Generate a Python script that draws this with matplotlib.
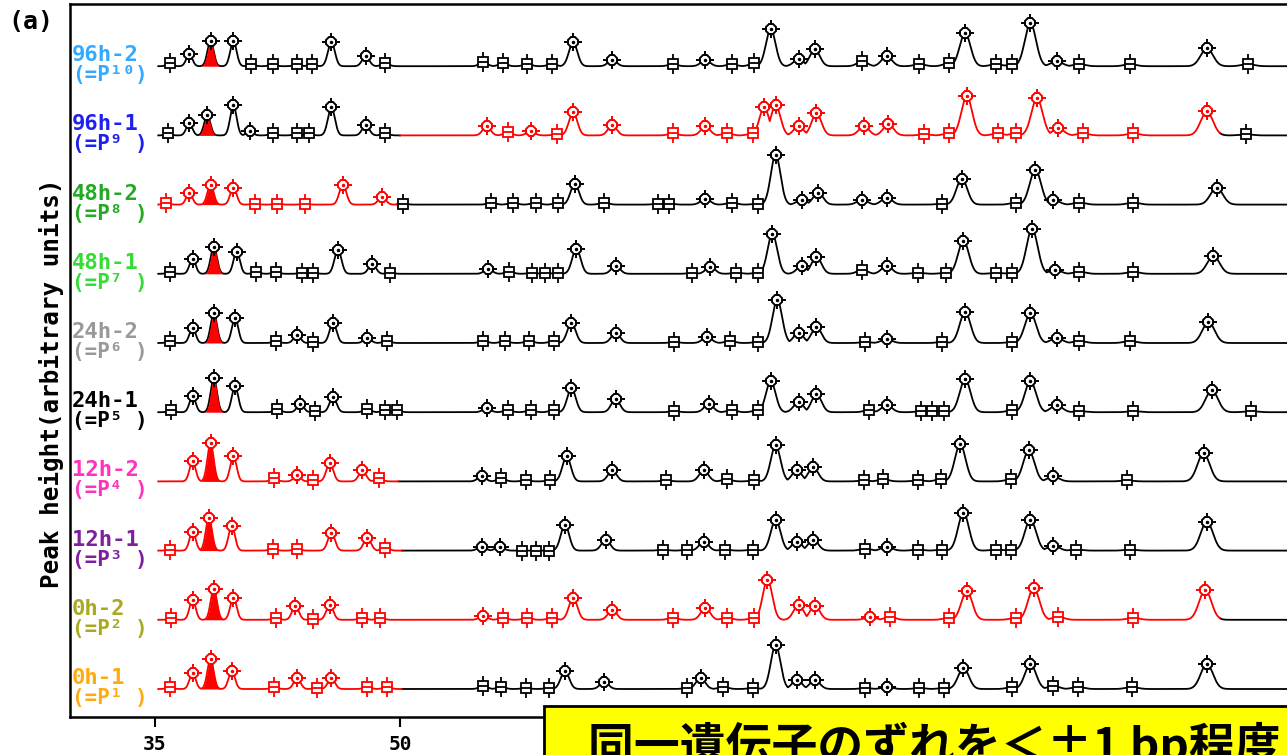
import matplotlib.pyplot as plt
from matplotlib.patches import Rectangle
import numpy as np

plt.rcParams['font.family'] = ['DejaVu Sans Mono', 'DejaVu Sans']

# sample rows, top to bottom
labels = ["96h-2", "96h-1", "48h-2", "48h-1", "24h-2", "24h-1", "12h-2", "12h-1", "0h-2", "0h-1"]
powers = ["(=P¹⁰)", "(=P⁹ )", "(=P⁸ )", "(=P⁷ )", "(=P⁶ )", "(=P⁵ )", "(=P⁴ )", "(=P³ )", "(=P² )", "(=P¹ )"]
label_colors = ["#33aaff", "#2020ee", "#22aa22", "#33dd33", "#999999",
                "#000000", "#ff33bb", "#7f1f9f", "#aaaa22", "#ffaa11"]
# part of each trace drawn in red (bp range)
red_spans = [None, (50.0, 100.2), (35.0, 49.8), None, None,
             None, (35.0, 49.9), (35.0, 50.1), (35.0, 100.2), (35.0, 50.1)]

x_ticks = [35, 50, 65, 80, 95]
x_tick_labels = ["35", "50", "", "", ""]   # the others sit under the note box

# peaks: (size in bp, height in arbitrary units, 'p' = called peak, 's' = bin marker)
p96h_2 = [(35.9, 3, 's'), (37.1, 12, 'p'), (38.4, 25, 'p'), (39.8, 25, 'p'), (40.9, 2, 's'),
          (42.2, 2, 's'), (43.7, 2, 's'), (44.6, 2, 's'), (45.8, 24, 'p'), (47.9, 10, 'p'),
          (49.1, 3, 's'), (55.1, 4, 's'), (56.3, 3, 's'), (57.8, 2, 's'), (59.3, 2, 's'),
          (60.6, 24, 'p'), (63.0, 6, 'p'), (66.7, 2, 's'), (68.7, 6, 'p'), (70.3, 2, 's'),
          (71.7, 3, 's'), (72.7, 37, 'p'), (74.4, 7, 'p'), (75.4, 17, 'p'), (78.3, 5, 's'),
          (79.8, 10, 'p'), (81.8, 2, 's'), (83.6, 3, 's'), (84.6, 33, 'p'), (86.5, 2, 's'),
          (87.5, 2, 's'), (88.6, 43, 'p'), (90.2, 5, 'p'), (91.6, 2, 's'), (94.7, 2, 's'),
          (99.4, 18, 'p'), (101.9, 2, 's')]
p96h_1 = [(35.8, 2, 's'), (37.1, 12, 'p'), (38.2, 20, 'p'), (39.8, 30, 'p'), (40.8, 4, 'p'),
          (42.2, 2, 's'), (43.7, 2, 's'), (44.4, 2, 's'), (45.8, 28, 'p'), (47.9, 10, 'p'),
          (49.1, 2, 's'), (55.3, 9, 'p'), (56.6, 3, 's'), (58.0, 4, 'p'), (59.6, 1, 's'),
          (60.6, 23, 'p'), (63.0, 10, 'p'), (66.7, 2, 's'), (68.7, 9, 'p'), (70.0, 2, 's'),
          (71.6, 2, 's'), (72.3, 28, 'p'), (73.0, 30, 'p'), (74.4, 9, 'p'), (75.5, 22, 'p'),
          (78.4, 9, 'p'), (79.9, 11, 'p'), (82.1, 1, 's'), (83.6, 2, 's'), (84.7, 39, 'p'),
          (86.6, 2, 's'), (87.7, 2, 's'), (89.0, 37, 'p'), (90.3, 7, 'p'), (91.8, 2, 's'),
          (94.9, 2, 's'), (99.4, 24, 'p'), (101.8, 1, 's')]
p48h_2 = [(35.7, 2, 's'), (37.1, 12, 'p'), (38.4, 20, 'p'), (39.8, 17, 'p'), (41.1, 1, 's'),
          (42.5, 1, 's'), (44.2, 1, 's'), (46.5, 20, 'p'), (48.9, 8, 'p'), (50.2, 1, 's'),
          (55.6, 2, 's'), (56.9, 2, 's'), (58.3, 2, 's'), (59.7, 2, 's'), (60.7, 21, 'p'),
          (62.5, 2, 's'), (65.8, 1, 's'), (66.5, 1, 's'), (68.7, 6, 'p'), (70.3, 2, 's'),
          (71.9, 1, 's'), (73.0, 50, 'p'), (74.6, 5, 'p'), (75.6, 12, 'p'), (78.3, 5, 'p'),
          (79.8, 7, 'p'), (83.2, 1, 's'), (84.4, 26, 'p'), (87.7, 2, 's'), (88.9, 35, 'p'),
          (90.0, 5, 'p'), (91.6, 2, 's'), (94.9, 2, 's'), (100.0, 17, 'p')]
p48h_1 = [(35.9, 2, 's'), (37.3, 15, 'p'), (38.6, 27, 'p'), (40.0, 22, 'p'), (41.2, 2, 's'),
          (42.4, 2, 's'), (44.0, 1, 's'), (44.7, 1, 's'), (46.2, 24, 'p'), (48.3, 10, 'p'),
          (49.4, 1, 's'), (55.4, 5, 'p'), (56.7, 2, 's'), (58.1, 1, 's'), (58.9, 1, 's'),
          (59.7, 1, 's'), (60.8, 25, 'p'), (63.2, 8, 'p'), (67.9, 1, 's'), (69.0, 7, 'p'),
          (70.6, 1, 's'), (71.9, 1, 's'), (72.8, 40, 'p'), (74.6, 8, 'p'), (75.5, 17, 'p'),
          (78.3, 4, 's'), (79.8, 8, 'p'), (81.7, 1, 's'), (83.4, 1, 's'), (84.5, 33, 'p'),
          (86.5, 1, 's'), (87.5, 1, 's'), (88.7, 45, 'p'), (90.1, 4, 'p'), (91.6, 2, 's'),
          (94.9, 2, 's'), (99.8, 18, 'p')]
p24h_2 = [(35.9, 2, 's'), (37.3, 15, 'p'), (38.6, 30, 'p'), (39.9, 25, 'p'), (42.4, 2, 's'),
          (43.7, 8, 'p'), (44.7, 1, 's'), (45.9, 20, 'p'), (48.0, 5, 'p'), (49.2, 2, 's'),
          (55.1, 2, 's'), (56.4, 2, 's'), (57.9, 2, 's'), (59.4, 2, 's'), (60.5, 20, 'p'),
          (63.2, 10, 'p'), (66.8, 1, 's'), (68.8, 6, 'p'), (70.2, 2, 's'), (71.9, 1, 's'),
          (73.1, 43, 'p'), (74.4, 10, 'p'), (75.5, 16, 'p'), (78.5, 1, 's'), (79.8, 4, 'p'),
          (83.2, 1, 's'), (84.6, 31, 'p'), (87.5, 1, 's'), (88.6, 30, 'p'), (90.2, 5, 'p'),
          (91.6, 2, 's'), (94.7, 2, 's'), (99.5, 21, 'p')]
p24h_1 = [(36.0, 2, 's'), (37.3, 16, 'p'), (38.6, 34, 'p'), (39.9, 26, 'p'), (42.5, 3, 's'),
          (43.9, 8, 'p'), (44.8, 1, 's'), (45.9, 15, 'p'), (48.0, 3, 's'), (49.1, 2, 's'),
          (49.8, 2, 's'), (55.3, 4, 'p'), (56.6, 2, 's'), (58.0, 2, 's'), (59.4, 2, 's'),
          (60.5, 24, 'p'), (63.2, 13, 'p'), (66.8, 1, 's'), (68.9, 8, 'p'), (70.3, 2, 's'),
          (71.9, 2, 's'), (72.7, 31, 'p'), (74.4, 10, 'p'), (75.5, 18, 'p'), (78.7, 2, 's'),
          (79.8, 7, 'p'), (81.9, 1, 's'), (82.6, 1, 's'), (83.3, 1, 's'), (84.6, 33, 'p'),
          (87.5, 2, 's'), (88.6, 31, 'p'), (90.2, 7, 'p'), (91.6, 1, 's'), (94.9, 1, 's'),
          (99.7, 22, 'p'), (102.1, 1, 's')]
p12h_2 = [(37.3, 20, 'p'), (38.4, 38, 'p'), (39.8, 25, 'p'), (42.3, 3, 's'), (43.7, 6, 'p'),
          (44.7, 1, 's'), (45.7, 18, 'p'), (47.7, 11, 'p'), (48.7, 3, 's'), (55.0, 5, 'p'),
          (56.2, 3, 's'), (57.7, 1, 's'), (59.2, 1, 's'), (60.2, 25, 'p'), (63.0, 11, 'p'),
          (66.3, 1, 's'), (68.6, 11, 'p'), (70.0, 2, 's'), (71.7, 1, 's'), (73.0, 36, 'p'),
          (74.3, 11, 'p'), (75.3, 14, 'p'), (78.4, 1, 's'), (79.6, 2, 's'), (81.7, 1, 's'),
          (83.1, 2, 's'), (84.3, 37, 'p'), (87.4, 2, 's'), (88.5, 31, 'p'), (90.0, 5, 'p'),
          (94.5, 1, 's'), (99.2, 28, 'p')]
p12h_1 = [(35.9, 1, 's'), (37.3, 19, 'p'), (38.3, 33, 'p'), (39.7, 25, 'p'), (42.2, 2, 's'),
          (43.7, 2, 's'), (45.8, 18, 'p'), (48.0, 13, 'p'), (49.1, 3, 's'), (55.0, 4, 'p'),
          (56.1, 4, 'p'), (57.5, 0, 's'), (58.3, 0, 's'), (59.1, 0, 's'), (60.1, 26, 'p'),
          (62.6, 11, 'p'), (66.1, 1, 's'), (67.6, 1, 's'), (68.6, 9, 'p'), (69.9, 1, 's'),
          (71.6, 1, 's'), (73.0, 31, 'p'), (74.3, 9, 'p'), (75.3, 11, 'p'), (78.5, 2, 's'),
          (79.8, 4, 'p'), (81.7, 1, 's'), (83.2, 1, 's'), (84.5, 38, 'p'), (86.5, 1, 's'),
          (87.4, 1, 's'), (88.6, 31, 'p'), (90.0, 5, 'p'), (91.4, 1, 's'), (94.7, 1, 's'),
          (99.4, 29, 'p')]
p0h_2 = [(36.0, 2, 's'), (37.3, 20, 'p'), (38.6, 31, 'p'), (39.8, 22, 'p'), (42.4, 2, 's'),
         (43.6, 14, 'p'), (44.7, 1, 's'), (45.7, 15, 'p'), (47.7, 2, 's'), (48.8, 2, 's'),
         (55.1, 4, 'p'), (56.3, 2, 's'), (57.8, 2, 's'), (59.3, 2, 's'), (60.6, 22, 'p'),
         (63.0, 10, 'p'), (66.7, 2, 's'), (68.7, 12, 'p'), (70.0, 2, 's'), (71.7, 2, 's'),
         (72.5, 40, 'p'), (74.4, 15, 'p'), (75.4, 14, 'p'), (78.8, 3, 'p'), (80.0, 3, 's'),
         (83.6, 2, 's'), (84.7, 29, 'p'), (87.7, 2, 's'), (88.8, 32, 'p'), (90.3, 3, 's'),
         (94.9, 2, 's'), (99.3, 30, 'p')]
p0h_1 = [(35.9, 2, 's'), (37.3, 16, 'p'), (38.4, 30, 'p'), (39.7, 18, 'p'), (42.3, 2, 's'),
         (43.7, 11, 'p'), (44.9, 1, 's'), (45.8, 11, 'p'), (48.0, 2, 's'), (49.2, 2, 's'),
         (55.1, 3, 's'), (56.2, 2, 's'), (57.7, 1, 's'), (59.1, 1, 's'), (60.1, 18, 'p'),
         (62.5, 7, 'p'), (67.6, 1, 's'), (68.4, 11, 'p'), (69.8, 2, 's'), (71.6, 1, 's'),
         (73.0, 44, 'p'), (74.3, 9, 'p'), (75.4, 9, 'p'), (78.5, 1, 's'), (79.8, 2, 'p'),
         (81.8, 1, 's'), (83.3, 1, 's'), (84.5, 21, 'p'), (87.5, 2, 's'), (88.6, 25, 'p'),
         (90.0, 3, 's'), (91.5, 2, 's'), (94.8, 2, 's'), (99.4, 25, 'p')]

rows = [p96h_2, p96h_1, p48h_2, p48h_1, p24h_2, p24h_1, p12h_2, p12h_1, p0h_2, p0h_1]

row_gap = 69.2
xs = np.arange(35.2, 110, 0.01)


def trace(peaks):
    y = np.zeros_like(xs)
    for x0, h, kind in peaks:
        sig = 0.18 + 0.003 * (x0 - 35)
        y = np.maximum(y, h * np.exp(-0.5 * ((xs - x0) / sig) ** 2))
    return y


def in_red(x, span):
    return span is not None and span[0] <= x <= span[1]


def draw_peak_marks(ax, px, py, c):
    ax.plot(px, py, ls='none', marker='+', ms=13, mew=1.4, color=c, zorder=4)
    ax.plot(px, py, ls='none', marker='8', ms=8, mfc='white', mec=c, mew=1.4, zorder=5)
    ax.plot(px, py, ls='none', marker='.', ms=3, color=c, zorder=6)


def draw_bin_marks(ax, px, py, c):
    ax.plot(px, py, ls='none', marker='|', ms=15, mew=1.3, color=c, zorder=4)
    ax.plot(px, py, ls='none', marker='s', ms=7.5, mfc='white', mec=c, mew=1.3, zorder=5)
    ax.plot(px, py, ls='none', marker='_', ms=7.5, mew=1.3, color=c, zorder=6)


fig = plt.figure(figsize=(12.87, 7.55), dpi=100)
ax = fig.add_axes([70 / 1287, 38 / 755, 1.25, 713 / 755])
x_left = 35 - 85 / 16.333
ax.set_xlim(x_left, x_left + 1.25 * 1287 / 16.333)
ax.set_ylim(-28, 685)

n = len(rows)
for i, peaks in enumerate(rows):
    off = (n - 1 - i) * row_gap
    y = trace(peaks) + off
    span = red_spans[i]
    red_mask = np.zeros_like(xs, dtype=bool)
    if span is not None:
        red_mask = (xs >= span[0]) & (xs <= span[1])
    ax.plot(xs, np.where(red_mask, np.nan, y), color='black', lw=1.3, zorder=3)
    if span is not None:
        ax.plot(xs, np.where(red_mask, y, np.nan), color='red', lw=1.3, zorder=3)

    # filled allele peak near 38 bp
    fill_x = [p[0] for p in peaks if 38 <= p[0] <= 39][0]
    m = np.abs(xs - fill_x) <= 0.6
    ax.fill_between(xs[m], off, y[m], color='red', lw=0, zorder=3)

    for kind, drawer in (('p', draw_peak_marks), ('s', draw_bin_marks)):
        for c in ('black', 'red'):
            sel = [p for p in peaks if p[2] == kind and (c == 'red') == in_red(p[0], span)]
            if sel:
                drawer(ax, [p[0] for p in sel], [p[1] + off for p in sel], c)

    ax.text(x_left + 0.1, off + 11, labels[i], color=label_colors[i], fontsize=16,
            fontweight='bold', ha='left', va='center', zorder=7)
    ax.text(x_left + 0.1, off - 9, powers[i], color=label_colors[i], fontsize=15,
            fontweight='bold', ha='left', va='center', zorder=7)

for side in ('top', 'left', 'bottom'):
    ax.spines[side].set_linewidth(1.8)
ax.spines['right'].set_visible(False)
ax.set_yticks([])
ax.set_xticks(x_ticks)
ax.set_xticklabels(x_tick_labels)
ax.tick_params(axis='x', direction='out', length=7, width=1.5, pad=6)
for lab in ax.get_xticklabels():
    lab.set_fontsize(14)
    lab.set_fontweight('bold')

fig.text(52 / 1287, 1 - 383 / 755, "Peak height(arbitrary units)", rotation=90,
         fontsize=17.5, fontweight='bold', ha='center', va='center')
fig.text(8 / 1287, 1 - 22 / 755, "(a)", fontsize=18, fontweight='bold', ha='left', va='center')

box = Rectangle((544 / 1287, -0.01), 0.6, (755 - 706) / 755 + 0.01, transform=fig.transFigure,
                facecolor='#ffff00', edgecolor='black', lw=2, zorder=10)
fig.patches.append(box)
fig.text(588 / 1287, -0.008, "同一遺伝子のずれを＜±1 bp程度", family=['Noto Sans CJK JP', 'DejaVu Sans'],
         fontsize=33, fontweight='bold', ha='left', va='baseline', zorder=11)

fig.savefig("out.png", dpi=100)
